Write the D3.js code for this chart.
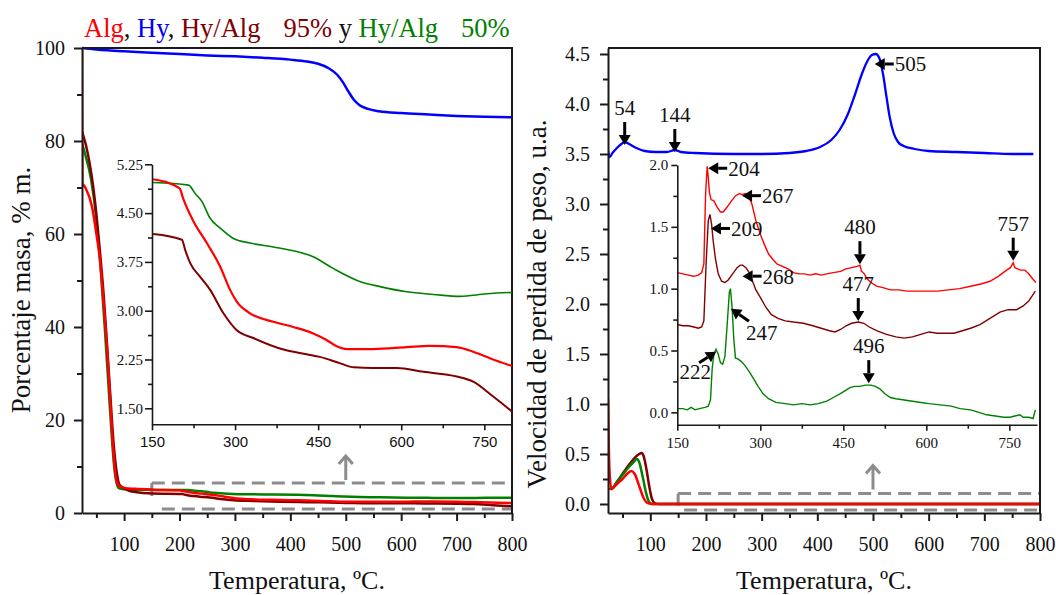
<!DOCTYPE html>
<html>
<head>
<meta charset="utf-8">
<script src="https://cdn.jsdelivr.net/npm/d3@7"></script>
<style>
  html, body { margin: 0; padding: 0; background: #fff; }
  svg { display: block; }
</style>
</head>
<body>
<svg id="chart" width="1056" height="595"></svg>
<script>
// ---------- Thermogravimetric curves (mass %, temperature in °C) ----------
const tgaHy = [[24,100],[50,99.7],[100,99.3],[150,99.0],[200,98.7],[250,98.4],[300,98.2],[350,97.9],[400,97.5],[430,97.1],[450,96.6],[470,95.6],[485,94.2],[495,92.6],[505,90.6],[515,88.8],[525,87.7],[540,86.9],[560,86.4],[600,86.0],[650,85.7],[700,85.4],[750,85.2],[800,85.1]];
const tgaAlg = [[24,100],[24.6,71],[30,70],[42,65.9],[50,60],[57,53.8],[63,45],[69,35.8],[74,26],[78,17.8],[82,11],[85,7.6],[88,6.3],[92,5.7],[100,5.4],[120,5.2],[152,5.02],[200,4.88],[206,4.73],[225,4.37],[249,4.04],[273,3.68],[291,3.32],[303,3.14],[327,2.96],[369,2.83],[405,2.75],[441,2.65],[465,2.55],[480,2.47],[502,2.41],[550,2.41],[610,2.44],[652,2.46],[700,2.44],[730,2.37],[760,2.27],[800,2.15]];
const tgaHy95 = [[24,82],[26,81.3],[35,77],[47,67.5],[55,58],[63,47],[69,36.5],[75,25.5],[81,15],[87,8.5],[91,6.2],[96,5.6],[105,5.0],[120,4.5],[152,4.18],[204,4.09],[210,3.93],[219,3.73],[237,3.52],[255,3.32],[279,2.96],[303,2.70],[333,2.58],[381,2.42],[429,2.33],[453,2.29],[490,2.19],[514,2.13],[550,2.12],[592,2.12],[640,2.06],[700,1.99],[730,1.91],[766,1.68],[800,1.45]];
const tgaHy50 = [[24,79.5],[30,77],[40,72],[50,63],[58,52],[65,40],[72,27],[78,16],[83,9],[87,6.2],[91,5.3],[100,5.1],[120,5.0],[152,4.97],[216,4.93],[228,4.80],[240,4.68],[255,4.42],[273,4.27],[297,4.11],[327,4.04],[369,3.98],[411,3.91],[441,3.83],[477,3.65],[525,3.45],[562,3.37],[610,3.29],[658,3.25],[706,3.22],[754,3.26],[800,3.28]];

// ---------- Derivative curves (weight-loss rate, a.u.) ----------
const dtgHy = [[24,3.53],[27,3.47],[32,3.51],[40,3.56],[48,3.6],[54,3.62],[62,3.6],[75,3.56],[90,3.53],[110,3.52],[130,3.52],[144,3.54],[155,3.52],[180,3.51],[250,3.5],[300,3.5],[350,3.51],[380,3.53],[405,3.57],[425,3.64],[440,3.74],[455,3.9],[468,4.1],[480,4.3],[490,4.43],[498,4.49],[505,4.5],[512,4.45],[518,4.3],[524,4.08],[530,3.87],[537,3.71],[545,3.62],[555,3.58],[575,3.55],[600,3.53],[650,3.52],[700,3.51],[750,3.5],[788,3.5]];
const dtgAlg = [[24,1.05],[25,0.7],[27,0.3],[30,0.15],[40,0.2],[50,0.25],[60,0.31],[66,0.33],[72,0.3],[80,0.18],[88,0.06],[95,0.01],[105,0],[800,0]];
const dtgHy95 = [[27,0.16],[30,0.15],[40,0.22],[50,0.3],[60,0.38],[70,0.45],[80,0.5],[85,0.51],[88,0.48],[93,0.35],[98,0.18],[103,0.05],[108,0.01],[115,0],[800,0]];
const dtgHy50 = [[27,0.16],[30,0.15],[40,0.22],[50,0.29],[60,0.36],[70,0.42],[76,0.45],[80,0.42],[86,0.28],[92,0.12],[97,0.03],[103,0],[800,0]];

// Magnified derivative curves, 150–800 °C
const dtgAlgZoom = [[150,1.13],[160,1.12],[170,1.11],[180,1.10],[188,1.11],[194,1.13],[198,1.20],[201,1.75],[204,1.99],[206,1.90],[208,1.78],[211,1.72],[216,1.71],[222,1.66],[228,1.62],[233,1.62],[240,1.66],[248,1.71],[255,1.75],[262,1.77],[267,1.76],[273,1.77],[280,1.74],[285,1.68],[292,1.55],[300,1.44],[308,1.35],[315,1.28],[322,1.24],[330,1.20],[340,1.18],[350,1.16],[360,1.13],[370,1.12],[380,1.12],[390,1.11],[400,1.12],[410,1.11],[420,1.12],[432,1.13],[445,1.14],[455,1.16],[465,1.17],[475,1.18],[480,1.19],[483,1.14],[488,1.12],[493,1.08],[500,1.05],[510,1.02],[520,1.01],[535,0.99],[550,0.99],[565,0.98],[580,0.98],[600,0.98],[620,0.98],[640,0.99],[660,1.00],[680,1.02],[700,1.04],[715,1.06],[730,1.10],[745,1.15],[752,1.17],[757,1.21],[760,1.17],[765,1.16],[770,1.15],[778,1.15],[785,1.12],[792,1.08],[798,1.05]];
const dtgHy95Zoom = [[150,0.71],[160,0.70],[170,0.70],[180,0.69],[188,0.68],[194,0.69],[198,0.74],[202,1.20],[206,1.55],[209,1.60],[212,1.52],[215,1.38],[219,1.24],[224,1.12],[230,1.06],[236,1.05],[242,1.07],[250,1.12],[258,1.17],[264,1.19],[268,1.19],[274,1.17],[280,1.13],[286,1.06],[292,0.99],[300,0.93],[310,0.85],[320,0.79],[332,0.76],[345,0.74],[360,0.73],[378,0.72],[395,0.70],[410,0.68],[425,0.66],[435,0.65],[445,0.67],[455,0.70],[465,0.72],[477,0.73],[487,0.72],[497,0.69],[510,0.66],[528,0.63],[545,0.61],[560,0.60],[575,0.61],[590,0.63],[605,0.65],[620,0.64],[635,0.64],[650,0.64],[665,0.66],[680,0.68],[697,0.71],[715,0.76],[733,0.81],[748,0.83],[763,0.83],[775,0.86],[785,0.90],[797,0.98]];
const dtgHy50Zoom = [[150,0.03],[160,0.03],[168,0.02],[175,0.04],[182,0.02],[190,0.03],[200,0.04],[206,0.05],[210,0.10],[213,0.35],[216,0.47],[220,0.51],[224,0.47],[228,0.40],[232,0.39],[236,0.45],[240,0.70],[244,0.97],[246,1.00],[249,0.85],[252,0.60],[255,0.44],[260,0.43],[266,0.41],[272,0.38],[280,0.33],[288,0.27],[296,0.21],[305,0.15],[315,0.11],[328,0.08],[345,0.07],[360,0.06],[375,0.07],[390,0.06],[405,0.07],[420,0.09],[432,0.12],[444,0.15],[455,0.18],[462,0.20],[470,0.21],[480,0.21],[490,0.22],[500,0.22],[508,0.21],[516,0.19],[525,0.15],[535,0.12],[545,0.11],[560,0.10],[575,0.09],[590,0.08],[605,0.07],[625,0.06],[645,0.05],[661,0.03],[680,0.02],[695,0.00],[709,-0.02],[725,-0.03],[740,-0.04],[751,-0.04],[760,-0.03],[769,-0.02],[775,-0.04],[785,-0.04],[793,-0.05],[797,0.02]];

// ---------- Axis ticks ----------
const tempTicks = [100,200,300,400,500,600,700,800];
const tempMinor = [50,150,250,350,450,550,650,750];
const massTicks = [0,20,40,60,80,100];
const massMinor = [10,30,50,70,90];
const massZoomTicks = [1.50,2.25,3.00,3.75,4.50,5.25];
const massZoomMinor = [1.875,2.625,3.375,4.125,4.875];
const zoomTempTicks = [150,300,450,600,750];
const zoomTempMinor = [225,375,525,675];
const rateTicks = [0,0.5,1,1.5,2,2.5,3,3.5,4,4.5];
const rateMinor = [0.25,0.75,1.25,1.75,2.25,2.75,3.25,3.75,4.25];
const rateZoomTicks = [0,0.5,1,1.5,2];
const rateZoomMinor = [0.25,0.75,1.25,1.75];

// Peak temperatures marked with arrows
const hyPeaks = [54,144,505];
const algPeaks = [204,267,480,757];
const hy95Peaks = [209,268,477];
const hy50Peaks = [222,247,496];

// ---------- Drawing ----------
const SERIF = '"Liberation Serif","Times New Roman",serif';
const SANS = '"Liberation Sans",Arial,sans-serif';
const C = { alg: "#ff0000", hy: "#0000ff", h95: "#800000", h50: "#008000" };
const INK = "#1a1a1a";
const GRAY = "#8c8c8c";

const svg = d3.select("#chart");

function axis(parent, orient, scale, tx, ty, o) {
  const make = orient === "left" ? d3.axisLeft : d3.axisBottom;
  const major = make(scale).tickValues(o.major).tickFormat(o.fmt)
    .tickSize(o.size).tickSizeOuter(0).tickPadding(o.pad);
  const g = parent.append("g").attr("transform", `translate(${tx},${ty})`).call(major);
  g.select(".domain").attr("stroke", INK).attr("stroke-width", o.width);
  g.selectAll(".tick line").attr("stroke", INK).attr("stroke-width", o.width);
  g.selectAll(".tick text").attr("font-family", o.font).attr("font-size", o.fontSize).attr("fill", "#111");
  if (o.minor) {
    const minor = make(scale).tickValues(o.minor).tickFormat("").tickSize(o.minorSize).tickSizeOuter(0);
    const m = parent.append("g").attr("transform", `translate(${tx},${ty})`).call(minor);
    m.select(".domain").remove();
    m.selectAll(".tick line").attr("stroke", INK).attr("stroke-width", o.width);
  }
  return g;
}

function valueAt(series, t) {
  const i = d3.bisector(d => d[0]).left(series, t);
  if (i <= 0) return series[0][1];
  if (i >= series.length) return series[series.length - 1][1];
  const a = series[i - 1], b = series[i];
  return a[1] + (b[1] - a[1]) * (t - a[0]) / (b[0] - a[0]);
}

function arrow(g, x1, y1, x2, y2, color) {
  const ang = Math.atan2(y2 - y1, x2 - x1);
  const hl = 10, hw = 6;
  const bx = x2 - hl * Math.cos(ang), by = y2 - hl * Math.sin(ang);
  g.append("line").attr("x1", x1).attr("y1", y1).attr("x2", bx).attr("y2", by)
    .attr("stroke", color).attr("stroke-width", 3);
  const px = -Math.sin(ang) * hw, py = Math.cos(ang) * hw;
  g.append("path").attr("d", `M${x2},${y2}L${bx + px},${by + py}L${bx - px},${by - py}Z`).attr("fill", color);
}

function grayArrow(g, x, y1, y2) {
  g.append("line").attr("x1", x).attr("x2", x).attr("y1", y1).attr("y2", y2)
    .attr("stroke", GRAY).attr("stroke-width", 3);
  g.append("path").attr("d", `M${x - 7},${y2 + 8}L${x},${y2}L${x + 7},${y2 + 8}`)
    .attr("fill", "none").attr("stroke", GRAY).attr("stroke-width", 3);
}

function annotate(g, x, y, series, t, layout) {
  const cx = x(t), cy = y(valueAt(series, t));
  const txt = String(t);
  const fs = 21;
  if (layout.dir === "down") {
    const tipY = cy - (layout.gap || 0);
    arrow(g, cx, tipY - 23, cx, tipY, "#000");
    g.append("text").attr("x", cx).attr("y", tipY - 30).attr("text-anchor", "middle")
      .attr("font-family", SERIF).attr("font-size", fs).attr("fill", "#111").text(txt);
  } else if (layout.dir === "left") {
    const tx = cx + (layout.dx || 0), ty = cy + (layout.dy || 0);
    arrow(g, tx + 19, ty, tx, ty, "#000");
    g.append("text").attr("x", tx + 20).attr("y", ty).attr("dy", "0.35em")
      .attr("font-family", SERIF).attr("font-size", fs).attr("fill", "#111").text(txt);
  } else if (layout.dir === "upLeft") {
    const tx = cx + (layout.dx || 0), ty = cy + (layout.dy || 0);
    arrow(g, tx + 18, ty + 12.5, tx, ty, "#000");
    g.append("text").attr("x", tx + 15).attr("y", ty + 31)
      .attr("font-family", SERIF).attr("font-size", fs).attr("fill", "#111").text(txt);
  } else if (layout.dir === "upRight") {
    const tx = cx + (layout.dx || 0), ty = cy + (layout.dy || 0);
    arrow(g, tx - 17, ty + 11, tx, ty, "#000");
    g.append("text").attr("x", tx - 21).attr("y", ty + 27).attr("text-anchor", "middle")
      .attr("font-family", SERIF).attr("font-size", fs).attr("fill", "#111").text(txt);
  }
}

function frame(g, x0, x1, y0, y1) {
  g.append("path").attr("d", `M${x0},${y0}H${x1}V${y1}`)
    .attr("fill", "none").attr("stroke", INK).attr("stroke-width", 2);
}

// ===== Left panel: mass loss =====
const L = { x0: 82, x1: 512, y0: 48, y1: 513 };
const xL = d3.scaleLinear().domain([24, 800]).range([L.x0, L.x1]);
const yL = d3.scaleLinear().domain([0, 100]).range([L.y1, L.y0]);
const left = svg.append("g");

left.append("clipPath").attr("id", "clipL").append("rect")
  .attr("x", L.x0).attr("y", L.y0 - 2).attr("width", L.x1 - L.x0).attr("height", L.y1 - L.y0 + 2);

// zoom-window marker
const dashL = left.append("g").attr("stroke", GRAY).attr("stroke-width", 3).attr("fill", "none");
dashL.append("line").attr("x1", xL(150)).attr("x2", xL(800)).attr("y1", yL(6.45)).attr("y2", yL(6.45)).attr("stroke-dasharray", "13,7");
dashL.append("line").attr("x1", xL(150)).attr("x2", xL(150)).attr("y1", yL(6.45)).attr("y2", yL(6.45) + 13);
dashL.append("line").attr("x1", xL(150) + 10).attr("x2", xL(800)).attr("y1", yL(0.86)).attr("y2", yL(0.86)).attr("stroke-dasharray", "13,7");
grayArrow(left, xL(500), yL(6.45) - 3, yL(6.45) - 27);

const lineL = d3.line().x(d => xL(d[0])).y(d => yL(d[1])).curve(d3.curveMonotoneX);
const curvesL = left.append("g").attr("clip-path", "url(#clipL)").attr("fill", "none");
curvesL.append("path").datum(tgaHy).attr("d", lineL).attr("stroke", C.hy).attr("stroke-width", 2.5);
curvesL.append("path").datum(tgaHy50).attr("d", lineL).attr("stroke", C.h50).attr("stroke-width", 2.5);
curvesL.append("path").datum(tgaHy95).attr("d", lineL).attr("stroke", C.h95).attr("stroke-width", 2.5);
curvesL.append("path").datum(tgaAlg).attr("d", lineL).attr("stroke", C.alg).attr("stroke-width", 2.5);

axis(left, "left", yL, L.x0, 0, { major: massTicks, minor: massMinor, fmt: d3.format("d"), size: 8, minorSize: 5, pad: 9, width: 2, font: SERIF, fontSize: 20 });
axis(left, "bottom", xL, 0, L.y1, { major: tempTicks, minor: tempMinor, fmt: d3.format("d"), size: 8, minorSize: 5, pad: 16, width: 2, font: SERIF, fontSize: 20 });
frame(left, L.x0, L.x1, L.y0, L.y1);

// inset: 150–800 °C
const xLi = d3.scaleLinear().domain([150, 800]).range([152, 512]);
const yLi = d3.scaleLinear().domain([1.254, 5.25]).range([424.3, 164.3]);
const lineLi = d3.line().x(d => xLi(d[0])).y(d => yLi(d[1])).curve(d3.curveMonotoneX);
const inL = left.append("g").attr("fill", "none");
inL.append("path").datum(tgaHy50.filter(d => d[0] >= 150)).attr("d", lineLi).attr("stroke", C.h50).attr("stroke-width", 1.6);
inL.append("path").datum(tgaAlg.filter(d => d[0] >= 150)).attr("d", lineLi).attr("stroke", C.alg).attr("stroke-width", 2.2);
inL.append("path").datum(tgaHy95.filter(d => d[0] >= 150)).attr("d", lineLi).attr("stroke", C.h95).attr("stroke-width", 2);
axis(left, "left", yLi, 152, 0, { major: massZoomTicks, minor: massZoomMinor, fmt: d3.format(".2f"), size: 7, minorSize: 4, pad: 2, width: 1.6, font: SERIF, fontSize: 15 });
axis(left, "bottom", xLi, 0, 424.3, { major: zoomTempTicks, minor: zoomTempMinor, fmt: d3.format("d"), size: 6, minorSize: 4, pad: 6, width: 1.6, font: SANS, fontSize: 15 });

// ===== Right panel: weight-loss rate =====
const R = { x0: 608, x1: 1040, y0: 48, y1: 513 };
const xR = d3.scaleLinear().domain([24, 800]).range([R.x0, R.x1]);
const yR = d3.scaleLinear().domain([-0.09, 4.56]).range([R.y1, R.y0]);
const right = svg.append("g");

right.append("clipPath").attr("id", "clipR").append("rect")
  .attr("x", R.x0).attr("y", R.y0).attr("width", R.x1 - R.x0).attr("height", R.y1 - R.y0);

const dashR = right.append("g").attr("stroke", GRAY).attr("stroke-width", 3).attr("fill", "none");
dashR.append("line").attr("x1", xR(150)).attr("x2", xR(800)).attr("y1", yR(0.105)).attr("y2", yR(0.105)).attr("stroke-dasharray", "13,7");
dashR.append("line").attr("x1", xR(150)).attr("x2", xR(150)).attr("y1", yR(0.105)).attr("y2", yR(0.105) + 12);
dashR.append("line").attr("x1", xR(150) + 6).attr("x2", xR(800)).attr("y1", yR(-0.06)).attr("y2", yR(-0.06)).attr("stroke-dasharray", "13,7");
grayArrow(right, xR(500), yR(0.105) - 4, yR(0.105) - 28);

const lineR = d3.line().x(d => xR(d[0])).y(d => yR(d[1])).curve(d3.curveMonotoneX);
const curvesR = right.append("g").attr("clip-path", "url(#clipR)").attr("fill", "none");
curvesR.append("path").datum(dtgHy).attr("d", lineR).attr("stroke", C.hy).attr("stroke-width", 2.3);
curvesR.append("path").datum(dtgHy95).attr("d", lineR).attr("stroke", C.h95).attr("stroke-width", 2.5);
curvesR.append("path").datum(dtgHy50).attr("d", lineR).attr("stroke", C.h50).attr("stroke-width", 2.5);
curvesR.append("path").datum(dtgAlg).attr("d", lineR).attr("stroke", C.alg).attr("stroke-width", 2.5);

axis(right, "left", yR, R.x0, 0, { major: rateTicks, minor: rateMinor, fmt: d3.format(".1f"), size: 8, minorSize: 5, pad: 10, width: 2, font: SERIF, fontSize: 20 });
axis(right, "bottom", xR, 0, R.y1, { major: tempTicks, minor: tempMinor, fmt: d3.format("d"), size: 8, minorSize: 5, pad: 16, width: 2, font: SERIF, fontSize: 20 });
frame(right, R.x0, R.x1, R.y0, R.y1);

const notesR = right.append("g");
const hyLayout = { 54: { dir: "down", gap: -3 }, 144: { dir: "down", gap: -2 }, 505: { dir: "left", dx: -1, dy: 10 } };
hyPeaks.forEach(t => annotate(notesR, xR, yR, dtgHy, t, hyLayout[t]));

// inset: 150–800 °C
const xRi = d3.scaleLinear().domain([150, 800]).range([677.3, 1037]);
const yRi = d3.scaleLinear().domain([-0.1, 2.0]).range([424.7, 165]);
const lineRi = d3.line().x(d => xRi(d[0])).y(d => yRi(d[1]));
const inR = right.append("g").attr("fill", "none");
inR.append("path").datum(dtgHy50Zoom).attr("d", lineRi).attr("stroke", C.h50).attr("stroke-width", 1.4);
inR.append("path").datum(dtgHy95Zoom).attr("d", lineRi).attr("stroke", C.h95).attr("stroke-width", 1.4);
inR.append("path").datum(dtgAlgZoom).attr("d", lineRi).attr("stroke", C.alg).attr("stroke-width", 1.4);
axis(right, "left", yRi, 677.3, 0, { major: rateZoomTicks, minor: rateZoomMinor, fmt: d3.format(".1f"), size: 6, minorSize: 4, pad: 3, width: 1.6, font: SERIF, fontSize: 15 });
axis(right, "bottom", xRi, 0, 424.7, { major: zoomTempTicks, minor: zoomTempMinor, fmt: d3.format("d"), size: 6, minorSize: 4, pad: 7, width: 1.6, font: SERIF, fontSize: 15 });

const notesRi = right.append("g");
const algLayout = { 204: { dir: "left", dx: 1, dy: 2 }, 267: { dir: "left", dx: 0, dy: 1 }, 480: { dir: "down", gap: 1 }, 757: { dir: "down", gap: 2 } };
const h95Layout = { 209: { dir: "left", dx: 1, dy: 14 }, 268: { dir: "left", dx: 0, dy: 11 }, 477: { dir: "down", gap: 1 } };
const h50Layout = { 222: { dir: "upRight", dx: -1, dy: 0 }, 247: { dir: "upLeft", dx: 0, dy: 14 }, 496: { dir: "down", gap: 2 } };
algPeaks.forEach(t => annotate(notesRi, xRi, yRi, dtgAlgZoom, t, algLayout[t]));
hy95Peaks.forEach(t => annotate(notesRi, xRi, yRi, dtgHy95Zoom, t, h95Layout[t]));
hy50Peaks.forEach(t => annotate(notesRi, xRi, yRi, dtgHy50Zoom, t, h50Layout[t]));

// ===== Titles =====
const title = svg.append("text").attr("x", 84).attr("y", 37)
  .attr("font-family", SERIF).attr("font-size", 26.5).style("white-space", "pre");
title.append("tspan").attr("fill", C.alg).text("Alg");
title.append("tspan").attr("fill", "#111").text(", ");
title.append("tspan").attr("fill", C.hy).text("Hy");
title.append("tspan").attr("fill", "#111").text(", ");
title.append("tspan").attr("fill", C.h95).text("Hy/Alg");
title.append("tspan").attr("fill", C.h95).attr("dx", 23).text("95%");
title.append("tspan").attr("fill", "#111").text(" y ");
title.append("tspan").attr("fill", C.h50).text("Hy/Alg");
title.append("tspan").attr("fill", C.h50).attr("dx", 23).text("50%");

svg.append("text").attr("x", (L.x0 + L.x1) / 2).attr("y", 589).attr("text-anchor", "middle")
  .attr("font-family", SERIF).attr("font-size", 26).attr("fill", "#111").text("Temperatura, ºC.");
svg.append("text").attr("x", (R.x0 + R.x1) / 2).attr("y", 589).attr("text-anchor", "middle")
  .attr("font-family", SERIF).attr("font-size", 26).attr("fill", "#111").text("Temperatura, ºC.");
svg.append("text").attr("transform", "translate(30,290) rotate(-90)").attr("text-anchor", "middle")
  .attr("font-family", SERIF).attr("font-size", 27).attr("fill", "#111").text("Porcentaje masa, % m.");
svg.append("text").attr("transform", "translate(546,304) rotate(-90)").attr("text-anchor", "middle")
  .attr("font-family", SERIF).attr("font-size", 27).attr("fill", "#111").text("Velocidad de perdida de peso, u.a.");
</script>
</body>
</html>
